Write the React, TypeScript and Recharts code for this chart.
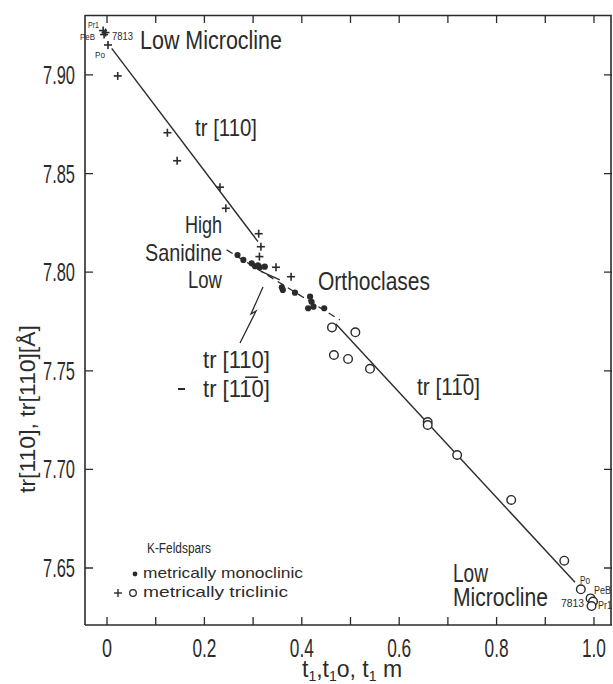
import React from 'react';
import { ScatterChart, Scatter, XAxis, YAxis } from 'recharts';

const FONT = '"Liberation Sans", Arial, sans-serif';
const INK = '#2b2b2b';

// ---------- data ----------
const xTicks = [0, 0.1, 0.2, 0.3, 0.4, 0.5, 0.6, 0.7, 0.8, 0.9, 1.0];
const xTickLabels = ['0', '', '0.2', '', '0.4', '', '0.6', '', '0.8', '', '1.0'];
const yTicks = [7.65, 7.7, 7.75, 7.8, 7.85, 7.9];
const yTickLabels = ['7.65', '7.70', '7.75', '7.80', '7.85', '7.90'];

// metrically triclinic, tr[110]  (+)
const triclinic110 = [
  { t: -0.008, v: 7.9225 },
  { t: -0.006, v: 7.9205 },
  { t: -0.003, v: 7.9215 },
  { t: 0.002, v: 7.9152 },
  { t: 0.022, v: 7.8995 },
  { t: 0.124, v: 7.8707 },
  { t: 0.144, v: 7.8565 },
  { t: 0.232, v: 7.8431 },
  { t: 0.244, v: 7.8324 },
  { t: 0.3115, v: 7.8195 },
  { t: 0.316, v: 7.8129 },
  { t: 0.313, v: 7.8079 },
  { t: 0.347, v: 7.8025 },
  { t: 0.378, v: 7.7977 },
];

// metrically monoclinic (•)
const monoclinic = [
  { t: 0.268, v: 7.8087 },
  { t: 0.28, v: 7.8062 },
  { t: 0.297, v: 7.8045 },
  { t: 0.304, v: 7.803 },
  { t: 0.31, v: 7.8035 },
  { t: 0.314, v: 7.8025 },
  { t: 0.324, v: 7.8028 },
  { t: 0.359, v: 7.7923 },
  { t: 0.361, v: 7.791 },
  { t: 0.386, v: 7.7896 },
  { t: 0.417, v: 7.7876 },
  { t: 0.42, v: 7.785 },
  { t: 0.413, v: 7.7817 },
  { t: 0.424, v: 7.7825 },
  { t: 0.446, v: 7.7817 },
];

// metrically triclinic, tr[1-10]  (o)
const triclinic1bar10 = [
  { t: 0.462, v: 7.772 },
  { t: 0.51, v: 7.7695 },
  { t: 0.466, v: 7.758 },
  { t: 0.495, v: 7.756 },
  { t: 0.54, v: 7.751 },
  { t: 0.6585, v: 7.724 },
  { t: 0.6585, v: 7.7225 },
  { t: 0.719, v: 7.7073 },
  { t: 0.83, v: 7.6845 },
  { t: 0.939, v: 7.6537 },
  { t: 0.973, v: 7.6392 },
  { t: 0.993, v: 7.6346 },
  { t: 0.998, v: 7.633 },
  { t: 0.995, v: 7.6307 },
];

const line110 = [
  { t: 0.0096, v: 7.9135 },
  { t: 0.31, v: 7.8155 },
];
const line1bar10 = [
  { t: 0.47, v: 7.7737 },
  { t: 0.961, v: 7.6428 },
];
const sanidineLine = [
  { t: 0.2457, v: 7.8113 },
  { t: 0.478, v: 7.7758 },
];
const lowLine = [
  { t: 0.3175, v: 7.8003 },
  { t: 0.355, v: 7.7961 },
];
const lightning = [
  { t: 0.3203, v: 7.7925 },
  { t: 0.2957, v: 7.7788 },
  { t: 0.306, v: 7.7803 },
  { t: 0.2731, v: 7.7641 },
];

const xDomain: [number, number] = [-0.0452, 1.037];
const yDomain: [number, number] = [7.6211, 7.9304];

// chart geometry (page = chart coordinates, body margin removed)
const W = 613;
const H = 684;
const M = { top: 15, right: 1, bottom: 0, left: 0 };
const YW = 85;
const XH = 59;
const PL = M.left + YW;
const PT = M.top;
const PR = W - M.right;
const PB = H - M.bottom - XH;
const PW = PR - PL;
const PH = PB - PT;

// ---------- shapes ----------
const Cross = (p: any) => {
  const { cx, cy } = p;
  if (cx == null || cy == null) return <g />;
  return (
    <g>
      <line x1={cx - 4} x2={cx + 4} y1={cy} y2={cy} stroke={INK} strokeWidth={1.6} />
      <line x1={cx} x2={cx} y1={cy - 4} y2={cy + 4} stroke={INK} strokeWidth={1.6} />
    </g>
  );
};
const Dot = (p: any) => {
  const { cx, cy } = p;
  if (cx == null || cy == null) return <g />;
  return <circle cx={cx} cy={cy} r={3.1} fill={INK} />;
};
const Ring = (p: any) => {
  const { cx, cy } = p;
  if (cx == null || cy == null) return <g />;
  return <circle cx={cx} cy={cy} r={4.3} fill="#fff" stroke={INK} strokeWidth={1.4} />;
};
const None = () => <g />;

// ---------- ticks (inward, mirrored on top / right) ----------
const TL = 8;
const BottomTick = (p: any) => {
  const { x, y, index } = p;
  const label = xTickLabels[index];
  const w = label.length === 1 ? 10 : 24;
  return (
    <g>
      <path d={`M${x},${y}V${y - TL}M${x},${y - PH}V${y - PH + TL}`} stroke={INK} strokeWidth={1.3} fill="none" />
      {label ? (
        <text x={x} y={y + 32} textAnchor="middle" fontSize={25} fill={INK} fontFamily={FONT}
          textLength={w} lengthAdjust="spacingAndGlyphs">{label}</text>
      ) : null}
    </g>
  );
};
const LeftTick = (p: any) => {
  const { x, y, index } = p;
  const label = yTickLabels[index];
  return (
    <g>
      <path d={`M${x},${y}H${x + TL}M${x + PW},${y}H${x + PW - TL}`} stroke={INK} strokeWidth={1.3} fill="none" />
      <text x={x - 10} y={y + 9} textAnchor="end" fontSize={25} fill={INK} fontFamily={FONT}
        textLength={32} lengthAdjust="spacingAndGlyphs">{label}</text>
    </g>
  );
};

// ---------- text overlay ----------
const T = ({ x, y, len, size = 24, anchor = 'start', children }: any) => (
  <text x={x} y={y} fontSize={size} textAnchor={anchor} textLength={len}
    lengthAdjust="spacingAndGlyphs" fill={INK} fontFamily={FONT}>{children}</text>
);

const BAR1 = '1\u0305';

const Overlay = () => (
  <svg width={W} height={H} style={{ position: 'absolute', left: 0, top: 0, pointerEvents: 'none' }}>
    {/* frame: top and right borders */}
    <path d={`M${PL},${PT + 0.5}H${PR - 1}V${PB}`} stroke={INK} strokeWidth={1.6} fill="none" />

    <T x={140} y={49} len={142} size={25}>Low Microcline</T>
    <T x={195} y={136} len={62}>tr [110]</T>
    <T x={222} y={233} len={37} anchor="end">High</T>
    <T x={222} y={261} len={77} anchor="end">Sanidine</T>
    <T x={222} y={288} len={34} anchor="end">Low</T>
    <T x={318} y={290} len={112} size={25}>Orthoclases</T>
    <T x={203} y={368} len={67}>tr [110]</T>
    <T x={203} y={397} len={67}>{'tr [1' + BAR1 + '0]'}</T>
    <line x1={178} x2={185} y1={389} y2={389} stroke={INK} strokeWidth={2} />
    <T x={417} y={395} len={63}>{'tr [1' + BAR1 + '0]'}</T>
    <T x={453} y={582} len={35} size={25}>Low</T>
    <T x={453} y={606} len={95} size={25}>Microcline</T>

    <T x={88} y={28} len={11} size={9}>Pr1</T>
    <T x={80} y={40} len={15} size={9}>PeB</T>
    <T x={95} y={58} len={10} size={9}>Po</T>
    <T x={112} y={40} len={21} size={11}>7813</T>

    <T x={580} y={584} len={10} size={10}>Po</T>
    <T x={594} y={594} len={17} size={10}>PeB</T>
    <T x={561} y={607} len={23} size={10}>7813</T>
    <T x={598} y={609} len={14} size={10}>Pr1</T>

    <T x={147} y={553} len={64} size={15}>K-Feldspars</T>
    <circle cx={135} cy={574} r={2.4} fill={INK} />
    <T x={143} y={578} len={160} size={15}>metrically monoclinic</T>
    <line x1={114} x2={122} y1={593} y2={593} stroke={INK} strokeWidth={1.4} />
    <line x1={118} x2={118} y1={589} y2={597} stroke={INK} strokeWidth={1.4} />
    <circle cx={133} cy={593} r={3.3} fill="none" stroke={INK} strokeWidth={1.3} />
    <T x={143} y={597} len={145} size={15}>metrically triclinic</T>

    <text x={302} y={677} fontSize={23} fill={INK} fontFamily={FONT}>
      t<tspan fontSize={14} dy={4}>1</tspan><tspan dy={-4}>,t</tspan><tspan fontSize={14} dy={4}>1</tspan><tspan dy={-4}>o, t</tspan><tspan fontSize={14} dy={4}>1</tspan><tspan dy={-4}> m</tspan>
    </text>

    <g transform="translate(35,409) rotate(-90)">
      <text x={0} y={0} fontSize={22} fill={INK} fontFamily={FONT} textAnchor="middle" textLength={168} lengthAdjust="spacingAndGlyphs">
        tr[110], tr[110][Å]
      </text>
    </g>
  </svg>
);

export default function App() {
  return (
    <div style={{ position: 'relative', width: W, height: H, background: '#fff', overflow: 'hidden' }}>
      <style>{'html,body{margin:0;padding:0;overflow:hidden;background:#fff}'}</style>
      <ScatterChart width={W} height={H} margin={M}>
        <XAxis type="number" dataKey="t" domain={xDomain} ticks={xTicks} interval={0}
          allowDataOverflow height={XH} tickSize={0} tickMargin={0} tick={<BottomTick />}
          axisLine={{ stroke: INK, strokeWidth: 1.6 }} tickLine={false} />
        <YAxis type="number" dataKey="v" domain={yDomain} ticks={yTicks} interval={0}
          allowDataOverflow width={YW} tickSize={0} tickMargin={0} tick={<LeftTick />}
          axisLine={{ stroke: INK, strokeWidth: 1.6 }} tickLine={false} />

        <Scatter data={line110} line={{ stroke: INK, strokeWidth: 1.4 }} shape={None} isAnimationActive={false} />
        <Scatter data={line1bar10} line={{ stroke: INK, strokeWidth: 1.4 }} shape={None} isAnimationActive={false} />
        <Scatter data={sanidineLine} line={{ stroke: INK, strokeWidth: 1.3, strokeDasharray: '7 5' }} shape={None} isAnimationActive={false} />
        <Scatter data={lowLine} line={{ stroke: INK, strokeWidth: 1.3 }} shape={None} isAnimationActive={false} />
        <Scatter data={lightning} line={{ stroke: INK, strokeWidth: 1.3 }} shape={None} isAnimationActive={false} />

        <Scatter data={triclinic1bar10} shape={Ring} isAnimationActive={false} />
        <Scatter data={monoclinic} shape={Dot} isAnimationActive={false} />
        <Scatter data={triclinic110} shape={Cross} isAnimationActive={false} />
      </ScatterChart>
      <Overlay />
    </div>
  );
}
